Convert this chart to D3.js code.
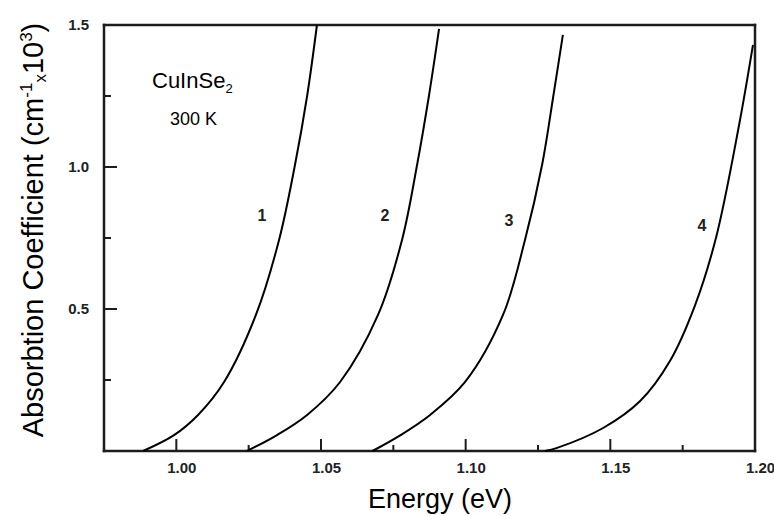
<!DOCTYPE html>
<html>
<head>
<meta charset="utf-8">
<script src="https://cdn.jsdelivr.net/npm/d3@7"></script>
<style>
  html, body { margin: 0; padding: 0; background: #fff; }
  svg { display: block; }
</style>
</head>
<body>
<svg id="chart" width="774" height="516"></svg>
<script>
// ---- data ----
const curveNames = ["1", "2", "3", "4"];
const energy1 = [0.9885, 0.9992, 1.0075, 1.0165, 1.0275, 1.0355, 1.0410, 1.0452, 1.0486];
const alpha1  = [0, 0.056, 0.127, 0.243, 0.479, 0.743, 1.007, 1.250, 1.500];
const energy2 = [1.0244, 1.0348, 1.0452, 1.0566, 1.0697, 1.0780, 1.0832, 1.0873, 1.0908];
const alpha2  = [0, 0.056, 0.127, 0.243, 0.479, 0.743, 1.007, 1.250, 1.486];
const energy3 = [1.0678, 1.0775, 1.0877, 1.0998, 1.1129, 1.1205, 1.1264, 1.1303, 1.1336];
const alpha3  = [0, 0.056, 0.127, 0.243, 0.479, 0.743, 1.007, 1.250, 1.465];
const energy4 = [1.1274, 1.1316, 1.1475, 1.1603, 1.1706, 1.1793, 1.1865, 1.1945, 1.1993];
const alpha4  = [0, 0.011, 0.081, 0.176, 0.317, 0.514, 0.750, 1.148, 1.430];
const labelEnergy = [1.0296, 1.0721, 1.1150, 1.1817];
const labelAlpha  = [0.824, 0.824, 0.806, 0.789];
const xMajorTicks = [1.00, 1.05, 1.10, 1.15, 1.20];
const xMinorTicks = [1.025, 1.075, 1.125, 1.175];
const yMajorTicks = [0.5, 1.0, 1.5];
const yMinorTicks = [0.25, 0.75, 1.25];
const xDomain = [0.975, 1.20];
const yDomain = [0, 1.5];

// ---- layout ----
const svg = d3.select("#chart");
const L = 104, R = 755, T = 25, B = 451;
const x = d3.scaleLinear().domain(xDomain).range([L, R]);
const y = d3.scaleLinear().domain(yDomain).range([B, T]);

const tickFont = "'Liberation Sans', Arial, sans-serif";
const ink = "black";
const axisInk = "#1c1c1c";

// frame (four separate lines)
const fx0 = x(xDomain[0]), fx1 = x(xDomain[1]), fy0 = y(yDomain[0]), fy1 = y(yDomain[1]);
[[fx0, fy1, fx1, fy1], [fx1, fy1, fx1, fy0], [fx1, fy0, fx0, fy0], [fx0, fy0, fx0, fy1]]
  .forEach(s => {
    svg.append("line").attr("x1", s[0]).attr("y1", s[1]).attr("x2", s[2]).attr("y2", s[3])
      .attr("stroke", axisInk).attr("stroke-width", 2.5).attr("stroke-linecap", "square");
  });

// tick marks (inward)
xMajorTicks.forEach(v => svg.append("line").attr("x1", x(v)).attr("x2", x(v))
  .attr("y1", B).attr("y2", B - 12).attr("stroke", axisInk).attr("stroke-width", 2));
xMinorTicks.forEach(v => svg.append("line").attr("x1", x(v)).attr("x2", x(v))
  .attr("y1", B).attr("y2", B - 6).attr("stroke", axisInk).attr("stroke-width", 2));
yMajorTicks.forEach(v => svg.append("line").attr("x1", L).attr("x2", L + 13)
  .attr("y1", y(v)).attr("y2", y(v)).attr("stroke", axisInk).attr("stroke-width", 2));
yMinorTicks.forEach(v => svg.append("line").attr("x1", L).attr("x2", L + 7)
  .attr("y1", y(v)).attr("y2", y(v)).attr("stroke", axisInk).attr("stroke-width", 2));

// x axis labels
const gx = svg.append("g").attr("transform", `translate(0,${B})`);
gx.call(d3.axisBottom(x).tickValues(xMajorTicks).tickSize(0).tickPadding(11)
  .tickFormat(d3.format(".2f")));
gx.select(".domain").remove();
gx.selectAll(".tick text").attr("font-family", tickFont).attr("font-size", 15)
  .attr("font-weight", "bold").attr("fill", "#222").attr("dx", 5);

// y axis labels
const gy = svg.append("g").attr("transform", `translate(${L},0)`);
gy.call(d3.axisLeft(y).tickValues(yMajorTicks).tickSize(0).tickPadding(15)
  .tickFormat(d3.format(".1f")));
gy.select(".domain").remove();
gy.selectAll(".tick text").attr("font-family", tickFont).attr("font-size", 15)
  .attr("font-weight", "bold").attr("fill", "#222");

// curves
const series = [
  { e: energy1, a: alpha1 },
  { e: energy2, a: alpha2 },
  { e: energy3, a: alpha3 },
  { e: energy4, a: alpha4 }
];
const line = d3.line().x(d => x(d[0])).y(d => y(d[1])).curve(d3.curveCatmullRom.alpha(0.5));
series.forEach(s => {
  const pts = s.e.map((v, i) => [v, s.a[i]]);
  svg.append("path").attr("d", line(pts))
    .attr("fill", "none").attr("stroke", ink).attr("stroke-width", 2);
});

// curve labels
curveNames.forEach((n, i) => {
  svg.append("text").attr("x", x(labelEnergy[i])).attr("y", y(labelAlpha[i]))
    .attr("text-anchor", "middle").attr("dominant-baseline", "middle")
    .attr("font-family", tickFont).attr("font-size", 16).attr("font-weight", "bold")
    .attr("fill", "#222").text(n);
});

// annotation
const ann = svg.append("text").attr("x", 152).attr("y", 88)
  .attr("font-family", "'Liberation Sans', Arial, sans-serif").attr("font-size", 22)
  .attr("fill", ink);
ann.append("tspan").text("CuInSe");
ann.append("tspan").attr("font-size", 13).attr("dy", 5).text("2");
svg.append("text").attr("x", 170).attr("y", 125)
  .attr("font-family", "'Liberation Sans', Arial, sans-serif").attr("font-size", 18)
  .attr("fill", ink).text("300 K");

// axis titles
svg.append("text").attr("x", 440).attr("y", 508).attr("text-anchor", "middle")
  .attr("font-family", "'Liberation Sans', Arial, sans-serif").attr("font-size", 27)
  .attr("fill", ink).text("Energy (eV)");

const yt = svg.append("text").attr("transform", "translate(43,230) rotate(-90)")
  .attr("text-anchor", "middle")
  .attr("font-family", "'Liberation Sans', Arial, sans-serif").attr("font-size", 29)
  .attr("fill", ink);
yt.append("tspan").text("Absorbtion Coefficient (cm");
yt.append("tspan").attr("font-size", 17).attr("dy", -11).text("-1");
yt.append("tspan").attr("font-size", 17).attr("dy", 14).text("x");
yt.append("tspan").attr("dy", -3).text("10");
yt.append("tspan").attr("font-size", 17).attr("dy", -11).text("3");
yt.append("tspan").attr("dy", 11).text(")");
</script>
</body>
</html>
